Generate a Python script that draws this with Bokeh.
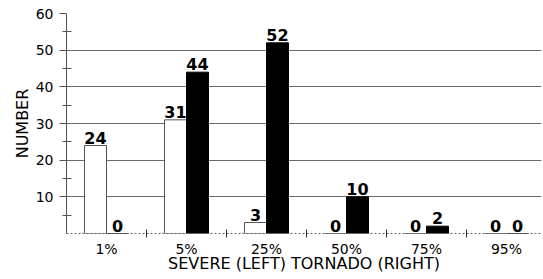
from bokeh.plotting import figure
from bokeh.models import Range1d, FixedTicker, ColumnDataSource
from bokeh.core.properties import value
from bokeh.embed import file_html
from bokeh.resources import INLINE

categories = ["1%", "5%", "25%", "50%", "75%", "95%"]
severe = [24, 31, 3, 0, 0, 0]
tornado = [0, 44, 52, 10, 2, 0]
y_major = [10, 20, 30, 40, 50, 60]
y_minor = [5, 15, 25, 35, 45, 55]

n = len(categories)
xs_sev = [i + 0.3625 for i in range(n)]
xs_tor = [i + 0.6375 for i in range(n)]

src_s = ColumnDataSource(dict(x=xs_sev, top=severe, lab=[str(v) for v in severe]))
src_t = ColumnDataSource(dict(x=xs_tor, top=tornado, lab=[str(v) for v in tornado]))

p = figure(width=543, height=279, output_backend="svg", toolbar_location=None,
           x_range=Range1d(0, 5.9375), y_range=Range1d(0, 60),
           min_border_left=66, min_border_right=2, min_border_top=13, min_border_bottom=46)
p.outline_line_color = None
p.background_fill_color = "white"
p.border_fill_color = "white"

FONT = "DejaVu Sans"

# bars
p.vbar(x="x", top="top", width=0.275, source=src_s, fill_color="white",
       line_color="#555555", line_width=1)
p.vbar(x="x", top="top", width=0.275, source=src_t, fill_color="black",
       line_color="black", line_width=1)

# value labels
for src in (src_s, src_t):
    p.text(x="x", y="top", text="lab", source=src, text_font=value(FONT),
           text_font_style="bold", text_font_size="16px", text_align="center",
           text_baseline="alphabetic", y_offset=-8, text_color="black")

# grid
p.xgrid.visible = False
p.ygrid.ticker = FixedTicker(ticks=y_major)
p.ygrid.grid_line_color = "#6a6a6a"
p.ygrid.grid_line_width = 1

# y axis
ya = p.yaxis[0]
ya.ticker = FixedTicker(ticks=y_major, minor_ticks=y_minor)
ya.axis_line_color = "#555555"
ya.major_tick_line_color = "#555555"
ya.minor_tick_line_color = "#555555"
ya.major_tick_out = 7
ya.major_tick_in = 0
ya.minor_tick_out = 4
ya.minor_tick_in = 5
ya.major_label_standoff = 6
ya.major_label_text_font = FONT
ya.major_label_text_font_size = "14px"
ya.major_label_text_color = "black"
ya.axis_label = "NUMBER"
ya.axis_label_text_font = FONT
ya.axis_label_text_font_size = "16px"
ya.axis_label_text_font_style = "normal"
ya.axis_label_text_color = "black"
ya.axis_label_standoff = 1

# x axis
xa = p.xaxis[0]
xa.ticker = FixedTicker(ticks=[i + 0.5 for i in range(n)],
                        minor_ticks=[i for i in range(1, n)])
xa.major_label_overrides = {i + 0.5: c for i, c in enumerate(categories)}
xa.axis_line_color = "#666666"
xa.axis_line_dash = "2 2"
xa.major_tick_line_color = None
xa.major_tick_out = 0
xa.major_tick_in = 0
xa.minor_tick_line_color = "#333333"
xa.minor_tick_out = 4
xa.minor_tick_in = 4
xa.major_label_standoff = 3
xa.major_label_text_font = FONT
xa.major_label_text_font_size = "14px"
xa.major_label_text_color = "black"
xa.axis_label = "SEVERE (LEFT) TORNADO (RIGHT)"
xa.axis_label_text_font = FONT
xa.axis_label_text_font_size = "16px"
xa.axis_label_text_font_style = "normal"
xa.axis_label_text_color = "black"
xa.axis_label_standoff = -6

open("out.html", "w").write(file_html(p, INLINE))
